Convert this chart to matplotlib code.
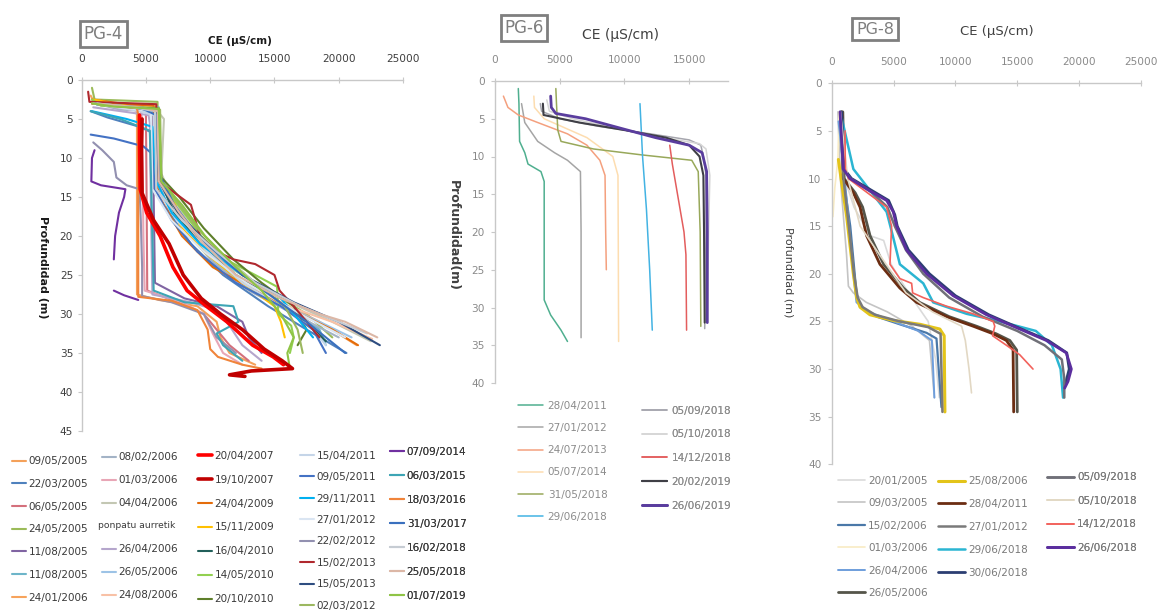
import matplotlib
matplotlib.use("Agg")
import matplotlib.pyplot as plt
import numpy as np

nan = np.nan
W, H = 1164, 611
plt.rcParams['font.family'] = ['DejaVu Sans']

# ------------------------------------------------------------------ PG-4 data
pg4_dates = ["09/05/2005", "22/03/2005", "06/05/2005", "24/05/2005", "11/08/2005", "11/08/2005", "24/01/2006",
             "08/02/2006", "01/03/2006", "04/04/2006", "ponpatu aurretik", "26/04/2006", "26/05/2006", "24/08/2006",
             "20/04/2007", "19/10/2007", "24/04/2009", "15/11/2009", "16/04/2010", "14/05/2010", "20/10/2010",
             "15/04/2011", "09/05/2011", "29/11/2011", "27/01/2012", "22/02/2012", "15/02/2013", "15/05/2013", "02/03/2012",
             "07/09/2014", "06/03/2015", "18/03/2016", "31/03/2017", "16/02/2018", "25/05/2018", "01/07/2019"]
pg4_depth = [
    [2.5, 3.5, 4.5, 10, 20, 27.5, 28.2, 29, 31, 33, 35, 36.5],
    [4, 4.8, 6, 7, 13, 17, 21, 25, 29, 32, 35],
    [3, 3.5, 5, 15, 27, 28.5, 30, 32, 34, 36],
    [1, 2.5, 2.8, 10, 13.5, 16, 20, 24, 27, 30, 33],
    [3, 3.6, 6, 15, 26, 28, 29, 31, 33, 35],
    [2.5, 3.2, 3.5, 12, 14, 18, 22, 26, 29, 32, 34],
    [2, 3, 3.4, 9, 13, 17, 21, 25, 28.5, 31, 34],
    [3, 3.8, 4, 12, 15, 19, 23, 27, 30, 33],
    [3, 4, 5, 20, 27, 28.5, 30, 32.5, 35, 36.5],
    [2.5, 3.8, 4.2, 5, 12, 15, 20, 24, 28, 31, 33.5],
    [],
    [3.5, 4.5, 5.5, 18, 27.5, 28.5, 29.5, 31.5, 34, 36],
    [3, 3.6, 4.3, 13, 16, 20, 24, 28, 31, 33],
    [2.5, 3.3, 3.6, 11, 14, 18, 22, 26, 29, 31, 33.2],
    [4.5, 8, 14, 17, 20, 24, 27, 29, 31, 34, 35.5, 36.5],
    [5, 9, 14.5, 18, 21, 25, 28, 30, 32, 34.5, 36, 37, 37.3, 37.8, 38],
    [2.5, 3, 3.3, 13, 16, 20, 24, 27, 30, 32, 34],
    [2.5, 3.5, 3.8, 13, 16, 18.5, 22, 26, 29, 31, 33],
    [3, 3.7, 4, 13, 17, 21, 25, 28, 31, 33.5],
    [2.5, 3.3, 3.6, 13, 16, 20, 23, 25, 26.5, 30, 31.5, 33, 35],
    [3, 3.4, 3.7, 12.5, 15, 19, 23, 26, 29, 32, 34],
    [3, 4, 4.5, 14, 18, 22, 26, 29, 32, 34],
    [7, 7.5, 8.5, 9.5, 14, 18, 22, 26, 29, 32, 35],
    [4, 5, 6, 13, 17, 21, 25, 28, 31, 33],
    [3, 3.5, 4, 14, 18, 22, 26, 30, 33],
    [8, 9, 10.5, 12.5, 13.5, 14, 18, 24, 27.7, 28.5, 30, 33, 35],
    [1.5, 2.8, 3.1, 13, 16, 20, 22, 23, 23.6, 25, 27, 29, 31, 33],
    [3, 3.5, 4, 13, 17, 21, 25, 28.5, 31, 34],
    [3, 3.4, 3.8, 13, 15.5, 19, 22.5, 26, 29, 32, 35],
    [9, 10, 13, 13.5, 14, 15, 17, 20, 23, nan, 27, 27.6, 28.2],
    [4, 5, 6.5, 13, 20, 27, 28.5, 29, 31, 32.5, 34, 36],
    [3, 3.6, 4.5, 15, 27.8, 28.3, 29.5, 32, 34.5, 35.5, 36.5, 37],
    [3, 3.5, 4.5, 12, 16, 20, 24, 28, 31, 33, 35],
    [3, 3.5, 4, 14, 18, 22, 26, 29, 31, 32.5],
    [3, 3.5, 4, 13, 17, 21, 25, 28, 30, 31, 33],
    [3, 3.4, 3.7, 13, 16, 20, 24, 27, 30, 33, 35, 37],
]
pg4_ce = [
    [900, 4200, 4300, 4300, 4300, 4300, 6000, 9000, 10500, 10800, 11500, 13500],
    [700, 2000, 4500, 5800, 6000, 6800, 8500, 11000, 14500, 17500, 20600],
    [800, 5000, 5000, 5050, 5100, 7500, 9500, 10500, 11500, 13000],
    [800, 1000, 5900, 6000, 6300, 7200, 8800, 11500, 14500, 17500, 19500],
    [800, 5500, 5500, 5600, 5700, 8000, 10500, 12500, 13000, 14000],
    [900, 1200, 6000, 6100, 6500, 7500, 9500, 12500, 16000, 18500, 19000],
    [700, 1000, 5700, 5800, 6200, 7500, 9500, 12500, 15500, 18500, 21400],
    [1000, 3000, 5700, 5800, 6400, 8000, 10000, 13000, 16500, 20000],
    [900, 4600, 4700, 4800, 4900, 7800, 9500, 10200, 11000, 12500],
    [1100, 4000, 6000, 6400, 6200, 7000, 9000, 11500, 15500, 19500, 22500],
    [],
    [900, 5200, 5300, 5400, 5500, 8500, 10500, 11500, 12500, 14000],
    [1000, 3500, 5800, 6000, 7000, 8800, 11000, 14500, 18500, 21000],
    [800, 2500, 5900, 6000, 6400, 7800, 9800, 12500, 16000, 19500, 22600],
    [4500, 4500, 4550, 5050, 6100, 7100, 8200, 9700, 11300, 13300, 14900, 15700],
    [4700, 4650, 4700, 5600, 6800, 7900, 9300, 10800, 12500, 14200, 15600, 16400, 13200, 11500, 12700],
    [800, 3000, 5600, 5700, 6400, 7800, 10200, 13500, 17000, 19500, 21500],
    [900, 4000, 5800, 6000, 7300, 7600, 9500, 12500, 15000, 15500, 15800],
    [1000, 4200, 5900, 6100, 7200, 9200, 12000, 15000, 17500, 19000],
    [800, 1500, 6000, 6100, 7500, 9300, 11200, 13500, 15200, 15300, 16300, 16500, 16200],
    [900, 3200, 6000, 6200, 7600, 9500, 11800, 14000, 16500, 17500, 16800],
    [1100, 4500, 5600, 5800, 7400, 9800, 12500, 15500, 18000, 19000],
    [700, 2500, 4800, 5500, 5700, 7000, 9000, 12000, 15500, 18000, 19000],
    [800, 3500, 5500, 5800, 7000, 9200, 12500, 15500, 17000, 18000],
    [1000, 3000, 5400, 5500, 7000, 9500, 12800, 17000, 20500],
    [900, 1600, 2500, 2700, 3500, 4500, 4600, 4700, 4700, 7000, 9500, 10500, 12000],
    [500, 600, 5800, 6000, 8500, 9200, 10500, 11800, 13500, 15000, 15400, 16500, 17500, 18500],
    [900, 3800, 5800, 6000, 7500, 9800, 12500, 16500, 20000, 23200],
    [800, 2800, 6100, 6200, 7400, 9000, 11000, 13500, 15800, 16800, 17200],
    [1000, 800, 750, 1500, 3400, 3300, 2900, 2600, 2500, nan, 2500, 3300, 4400],
    [700, 3000, 5300, 5400, 5500, 5600, 8000, 11800, 12200, 10500, 11000, 12500],
    [800, 4300, 4400, 4400, 4400, 7000, 9000, 9800, 10000, 10600, 12500, 14000],
    [1000, 4500, 5800, 6000, 7200, 9000, 11800, 15000, 17500, 19000, 20500],
    [1200, 4000, 5700, 5800, 7800, 10500, 13500, 17000, 20000, 22200],
    [900, 4500, 5900, 6000, 7600, 9500, 12000, 15500, 18500, 20500, 23000],
    [800, 2500, 6000, 6200, 7800, 9600, 12000, 14000, 15500, 16500, 16000, 16200],
]
pg4_colors = ['#F4A15A', '#4F81BD', '#D4707C', '#9BBB59', '#8064A2', '#6DB5C9', '#F7A35C',
              '#A3B3C6', '#E8A6B6', '#C3C7B3', 'none', '#B5A6CC', '#9DC3E6', '#F8C1A6',
              '#FF0000', '#C00000', '#E46C0A', '#FFC000', '#215F5A', '#92D050', '#5E7F2A',
              '#C5D5E8', '#4472C4', '#00B0F0', '#DAE5F2', '#9290B0', '#B0282E', '#2E4D80', '#9CB860',
              '#7030A0', '#3DA5B5', '#F0843A', '#3A70BE', '#C6CCD3', '#DCB7A6', '#8FC446']
pg4_widths = [1.5] * 36
pg4_widths[14] = 2.6
pg4_widths[15] = 2.6
pg4_columns = [7, 7, 7, 8, 7]

# ------------------------------------------------------------------ PG-6 data
pg6_dates = ["28/04/2011", "27/01/2012", "24/07/2013", "05/07/2014", "31/05/2018", "29/06/2018",
             "05/09/2018", "05/10/2018", "14/12/2018", "20/02/2019", "26/06/2019"]
pg6_depth = [
    [1, 3, 8, 9.5, 11, 12, 13.3, 20, 29, 31, 33, 34.5],
    [3, 5.5, 8, 9.5, 10.5, 12, 20, 34],
    [2, 3.5, 4.5, 5.5, 7, 8.5, 10.5, 12.5, 20, 25],
    [2, 3.5, 5, 7.5, 10, 12.5, 20, 34.5],
    [1, 3, 6.5, 8, 9, 9.8, 10.5, 12, 20, 32.5],
    [3, 10, 17, 25, 33],
    [3, 4, 5, 6, 7, 7.8, 8.5, 10, 12.5, 20, 32.8],
    [2.5, 4, 5, 6.3, 7.5, 8.3, 9, 12.5, 20, 32],
    [8.5, 11, 16, 20, 23, 33],
    [3, 4.5, 5.5, 6.5, 7.5, 8.5, 10, 12.5, 20, 32],
    [2, 3.5, 4.3, 5, 6.3, 7.5, 8.5, 9.5, 12, 20, 32],
]
pg6_ce = [
    [1800, 1850, 1900, 2300, 2550, 3550, 3800, 3800, 3800, 4300, 5100, 5600],
    [2050, 2300, 3300, 4600, 5600, 6600, 6650, 6650],
    [650, 1000, 1800, 3300, 5600, 7100, 8100, 8500, 8550, 8600],
    [3000, 3050, 3800, 7100, 9100, 9500, 9520, 9550],
    [4700, 4750, 4850, 5100, 7600, 11400, 15200, 15700, 15850, 15900],
    [11200, 11400, 11700, 11950, 12150],
    [3500, 3600, 5000, 8000, 12000, 15000, 15900, 16100, 16300, 16300, 16200],
    [4000, 4200, 6000, 9500, 13000, 15800, 16300, 16600, 16500, 16400],
    [13500, 13700, 14200, 14600, 14750, 14800],
    [3700, 3750, 6500, 10000, 13200, 15000, 15800, 16100, 16150, 16200],
    [4300, 4350, 4700, 7000, 9800, 12400, 15000, 16000, 16350, 16400, 16400],
]
pg6_colors = ['#4FAF8F', '#A5A5A5', '#F4A07E', '#FDDDB0', '#98A85A', '#43B3E3',
              '#A6A6AE', '#D5D5D5', '#E35D5D', '#3F3F46', '#5A3D9E']
pg6_widths = [1.1, 1.1, 1.1, 1.1, 1.1, 1.1, 1.1, 1.1, 1.1, 1.5, 2.0]
pg6_columns = [6, 5]

# ------------------------------------------------------------------ PG-8 data
pg8_dates = ["20/01/2005", "09/03/2005", "15/02/2006", "01/03/2006", "26/04/2006", "26/05/2006",
             "25/08/2006", "28/04/2011", "27/01/2012", "29/06/2018", "30/06/2018",
             "05/09/2018", "05/10/2018", "14/12/2018", "26/06/2018"]
pg8_depth = [
    [3, 9, 13, 16, 16.5, 19, 22, 25, 29, 33],
    [3, 10, 18, 21.3, 22, 23, 24, 25.5, 27, 33],
    [4, 10, 15, 22, 23.5, 24.5, 25.3, 26.2, 26.8, 34],
    [3, 8, 11, 14],
    [4, 12, 20, 23, 24, 25, 26, 27, 30, 33],
    [3, 10, 11.5, 13, 16, 19, 21.5, 23, 24.5, 25.5, 26.3, 27, 28, 34.5],
    [8, 10.5, 14, 20, 22.5, 23.5, 24.3, 24.9, 25.3, 25.8, 26.5, 34.5],
    [3, 10, 11.5, 13, 16, 19, 21.5, 23, 24.5, 25.5, 26.3, 27, 28, 34.5],
    [3, 10, 14, 20, 22.5, 23.5, 24.3, 25, 25.6, 26.3, 34.5],
    [3, 9, 13.5, 15.5, 19, 21, 23, 24.2, 25, 26, 27.5, 30, 33],
    [3, 9, 10, 11.3, 12.3, 13.8, 15, 17.5, 20, 22.3, 24.3, 25.5, 27, 28.3, 30, 31.5],
    [3, 9, 10, 11.5, 13, 15, 17.5, 20, 22.5, 24.5, 26, 27.5, 29, 31, 33],
    [3, 10, 15, 19, 22, 24, 25.5, 27, 30, 32.5],
    [5, 9, 10, 13, 15, 19, 20.5, 21, 22, 22.5, 23.4, 24.2, 25, 25.5, 26.5, 27.5, 28.5, 30],
    [3, 9, 10, 11.3, 12.3, 13.5, 15, 17.5, 20, 22.3, 24.3, 25.5, 27, 28.3, 30, 31.3, 32],
]
pg8_ce = [
    [600, 800, 1800, 3100, 4200, 4800, 6200, 7800, 8400, 8700],
    [500, 700, 1200, 1350, 1750, 2800, 4500, 6500, 7900, 8300],
    [700, 950, 1500, 2000, 2300, 3650, 5500, 7670, 8470, 8870],
    [600, 500, 250, 100],
    [550, 1200, 1750, 2000, 3000, 5000, 7000, 8100, 8200, 8300],
    [900, 1000, 1900, 2500, 3100, 4200, 5800, 7100, 9500, 11700, 13300, 14400, 14950, 15000],
    [540, 810, 1210, 1750, 2020, 2290, 3090, 4980, 7130, 8740, 9090, 9150],
    [810, 940, 1750, 2290, 2820, 3900, 5510, 6860, 9280, 11430, 13050, 14120, 14660, 14710],
    [800, 950, 1300, 1800, 2100, 2500, 3500, 5500, 7800, 8800, 8950],
    [700, 1750, 4440, 4840, 5510, 7400, 8200, 10900, 13600, 16500, 17800, 18500, 18700],
    [800, 1000, 1600, 3300, 4600, 5100, 5300, 6200, 7900, 10000, 12700, 14800, 17500, 19000, 19200, 18900],
    [700, 900, 1500, 3300, 4500, 5100, 6000, 7400, 9500, 12200, 15000, 17200, 18600, 18800, 18800],
    [700, 1300, 2300, 4400, 6000, 8150, 10500, 10800, 11100, 11300],
    [1080, 1100, 1350, 4440, 4840, 4710, 5510, 6460, 6540, 7400, 9280, 11430, 13050, 13180, 13000, 14120, 15200, 16270],
    [670, 940, 1480, 3090, 4440, 4980, 5250, 6050, 7670, 9820, 12510, 14660, 17350, 18960, 19370, 19100, 18830],
]
pg8_colors = ['#DADADA', '#C4C4C4', '#4A78A8', '#F8EBC4', '#6E9EDC', '#55554A',
              '#E3C41A', '#6B2D12', '#7A7A7A', '#2BB5D2', '#2C3E72',
              '#707078', '#E2D8C4', '#F2625C', '#5B2E9E']
pg8_widths = [1.2, 1.2, 1.6, 1.2, 1.4, 2.0, 2.2, 2.0, 1.8, 1.8, 2.0, 1.8, 1.2, 1.2, 2.0]
pg8_columns = [6, 5, 4]

# ------------------------------------------------------------------ figure
fig = plt.figure(figsize=(W / 100, H / 100), dpi=100)


def fx(px):
    return px / W


def fy(py):
    return 1 - py / H


def make_axes(l, t, r, b):
    return fig.add_axes([fx(l), fy(b), fx(r) - fx(l), (b - t) / H])


def style(ax, xmax, ymax, xt, yt, tcolor, ypad):
    ax.set_xlim(0, xmax)
    ax.set_ylim(ymax, 0)
    ax.xaxis.tick_top()
    ax.set_xticks(xt)
    ax.set_yticks(yt)
    for s in ['bottom', 'right']:
        ax.spines[s].set_visible(False)
    for s in ['top', 'left']:
        ax.spines[s].set_color('#C8C8C8')
        ax.spines[s].set_linewidth(1.0)
    ax.tick_params(axis='x', direction='inout', length=4, width=0.8, color='#C8C8C8',
                   pad=9.5, labelsize=7.6, labelcolor=tcolor)
    ax.tick_params(axis='y', direction='out', length=3, width=0.8, color='#C8C8C8',
                   pad=ypad, labelsize=7.6, labelcolor=tcolor)
    ax.set_facecolor('none')


def draw(ax, depth, ce, colors, widths, dates):
    lines = []
    for d, c, col, lw, lab in zip(depth, ce, colors, widths, dates):
        ln, = ax.plot(c, d, color=col, lw=lw, label=lab, solid_capstyle='round',
                      solid_joinstyle='round')
        lines.append(ln)
    return lines


def legends(ax, lines, labels, counts, xs, tops, spacings, hl, htp, tcolor, size=7.5):
    i = 0
    out = []
    for n, x, t, ls in zip(counts, xs, tops, spacings):
        leg = ax.legend(lines[i:i + n], labels[i:i + n], loc='upper left',
                        bbox_to_anchor=(fx(x), fy(t)), bbox_transform=fig.transFigure,
                        frameon=False, borderpad=0, borderaxespad=0, labelspacing=ls,
                        handlelength=hl, handletextpad=htp, fontsize=size, labelcolor=tcolor)
        ax.add_artist(leg)
        out.append(leg)
        i += n
    return out


def box_title(x, y, s, size):
    fig.text(fx(x), fy(y), s, ha='center', va='center', fontsize=size, color='#7F7F7F',
             bbox=dict(boxstyle='square,pad=0.22', fc='white', ec='#7F7F7F', lw=2.0))


# PG-4
ax4 = make_axes(81.7, 80, 403, 431)
style(ax4, 25000, 45, [0, 5000, 10000, 15000, 20000, 25000], list(range(0, 46, 5)), '#3F3F3F', 3.2)
l4 = draw(ax4, pg4_depth, pg4_ce, pg4_colors, pg4_widths, pg4_dates)
for k in (14, 15):
    l4[k].set_zorder(3)
leg_labels4 = [' ' if c == 'none' else d for d, c in zip(pg4_dates, pg4_colors)]
legends(ax4, l4, leg_labels4, pg4_columns, [12, 102, 198, 300, 390],
        [456.3, 452.3, 450.6, 450.6, 446.6], [1.22, 1.25, 1.34, 1.10, 1.35], 1.3, 0.3, '#3A3A3A')
# legend entry without a line: its label sits further left, in the handle space
fig.text(fx(98), fy(526), pg4_dates[pg4_colors.index('none')], ha='left', va='center',
         fontsize=6.6, color='#3A3A3A')
box_title(103.5, 34, 'PG-4', 12)
fig.text(fx(240), fy(41), 'CE (µS/cm)', ha='center', va='center', fontsize=7.5,
         fontweight='bold', color='#1A1A1A')
fig.text(fx(43), fy(267), 'Profundidad (m)', ha='center', va='center', rotation=-90,
         fontsize=8, fontweight='bold', color='#1A1A1A')

# PG-6
ax6 = make_axes(495, 81, 728, 383)
style(ax6, 18000, 40, [0, 5000, 10000, 15000], list(range(0, 41, 5)), '#8A8A8A', 4.2)
l6 = draw(ax6, pg6_depth, pg6_ce, pg6_colors, pg6_widths, pg6_dates)
legends(ax6, l6, pg6_dates, pg6_columns, [518, 642], [400.6, 405.6], [1.18, 1.32], 2.4, 0.45, '#8C8C8C')
box_title(524, 28, 'PG-6', 12)
fig.text(fx(620), fy(35), 'CE (µS/cm)', ha='center', va='center', fontsize=10, color='#404040')
fig.text(fx(453), fy(236), 'Profundidad(m)', ha='center', va='center', rotation=-90,
         fontsize=9, fontweight='bold', color='#404040')

# PG-8
ax8 = make_axes(831.7, 83.3, 1141, 464.3)
style(ax8, 25000, 40, [0, 5000, 10000, 15000, 20000, 25000], list(range(0, 41, 5)), '#8A8A8A', 4.2)
l8 = draw(ax8, pg8_depth, pg8_ce, pg8_colors, pg8_widths, pg8_dates)
legends(ax8, l8, pg8_dates, pg8_columns, [838, 938, 1047], [475.6, 476.3, 472.3],
        [1.20, 1.23, 1.30], 2.6, 0.3, '#7A7A7A')
box_title(875, 29, 'PG-8', 11.5)
fig.text(fx(997), fy(32), 'CE (µS/cm)', ha='center', va='center', fontsize=9.5, color='#404040')
fig.text(fx(788), fy(272), 'Profundidad (m)', ha='center', va='center', rotation=-90,
         fontsize=8, color='#404040')

fig.savefig('out.png', dpi=100)
